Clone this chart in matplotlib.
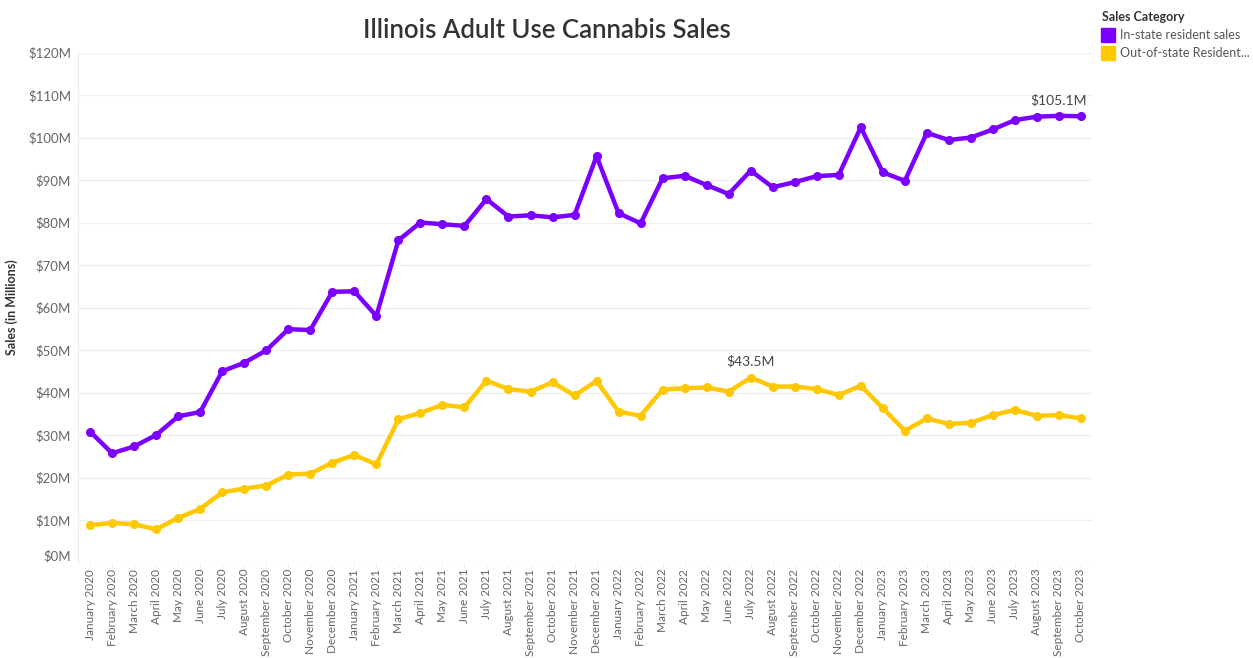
import matplotlib.pyplot as plt
from matplotlib.lines import Line2D

plt.rcParams['font.family'] = ['Lato', 'DejaVu Sans']

months = ["January", "February", "March", "April", "May", "June", "July",
          "August", "September", "October", "November", "December"]
month_labels = [f"{m} {y}" for y in range(2020, 2024) for m in months][:46]

# monthly sales, $M
in_state = [30.8, 25.7, 27.3, 30.0, 34.4, 35.4, 45.0, 47.0, 49.9, 54.9, 54.7, 63.7,
            63.8, 58.0, 75.8, 80.0, 79.6, 79.2, 85.5, 81.4, 81.7, 81.2, 81.8, 95.6,
            82.2, 79.8, 90.4, 91.0, 88.8, 86.7, 92.2, 88.3, 89.5, 90.9, 91.2, 102.4,
            91.8, 89.8, 101.1, 99.4, 100.0, 101.9, 104.1, 104.9, 105.1, 105.0]
out_of_state = [8.8, 9.3, 9.0, 7.8, 10.5, 12.6, 16.5, 17.4, 18.1, 20.7, 20.9, 23.5,
                25.3, 23.1, 33.7, 35.2, 37.1, 36.5, 42.8, 40.8, 40.2, 42.4, 39.3, 42.7,
                35.5, 34.5, 40.7, 41.0, 41.2, 40.2, 43.5, 41.4, 41.4, 40.8, 39.4, 41.6,
                36.3, 31.0, 33.9, 32.6, 32.9, 34.7, 35.9, 34.5, 34.7, 33.9]
series_names = ["In-state resident sales", "Out-of-state Resident..."]
series_colors = ["#7b00ff", "#ffc800"]
y_ticks = list(range(0, 130, 10))

fig = plt.figure(figsize=(12.53, 6.58), dpi=100)
ax = fig.add_axes([78 / 1253, 1 - 562.5 / 658, (1092 - 78) / 1253, 510 / 658])

x = list(range(len(month_labels)))
for vals, col in zip([in_state, out_of_state], series_colors):
    ax.plot(x, vals, color=col, lw=3.2, marker="o", ms=5.5, zorder=3,
            solid_joinstyle="round", solid_capstyle="round")

# callouts on the peak values
i_max = in_state.index(max(in_state))
ax.annotate(f"${in_state[i_max]:.1f}M", (i_max, in_state[i_max]),
            xytext=(0, 7), textcoords="offset points", ha="center", va="bottom",
            fontsize=10, color="#444444")
o_max = out_of_state.index(max(out_of_state))
ax.annotate(f"${out_of_state[o_max]:.1f}M", (o_max, out_of_state[o_max]),
            xytext=(0, 7), textcoords="offset points", ha="center", va="bottom",
            fontsize=10, color="#444444")

ax.set_xlim(-0.55, len(x) - 0.5)
ax.set_ylim(0, 120)
ax.set_xticks(x)
ax.set_xticklabels(month_labels, rotation=90, fontsize=8.5, color="#666666")
ax.set_yticks(y_ticks)
ylabels = ax.set_yticklabels([f"${v}M" for v in y_ticks], fontsize=9.5, color="#666666")
ylabels[0].set_va("bottom")
ax.tick_params(axis="y", length=0, pad=5)
ax.tick_params(axis="x", length=3, color="#eeeeee", pad=1.5)
ax.grid(axis="y", color="#f0f0f0", lw=1)
ax.set_axisbelow(True)
for side in ["top", "right", "bottom"]:
    ax.spines[side].set_visible(False)
ax.spines["left"].set_color("#eeeeee")

ax.set_ylabel("Sales (in Millions)", fontsize=9, color="#333333", fontweight="bold")
ax.yaxis.set_label_coords((18 - 78) / 1014, 0.5)
fig.text(547 / 1253, 1 - 30 / 658, "Illinois Adult Use Cannabis Sales",
         ha="center", va="center", fontsize=18.5, color="#333333", fontweight="semibold")

handles = [Line2D([], [], ls="none", marker="s", ms=10, color=c) for c in series_colors]
leg = fig.legend(handles, series_names, title="Sales Category", loc="upper left",
                 bbox_to_anchor=(1093 / 1253, 1 - 2 / 658), frameon=False,
                 fontsize=9, title_fontsize=9, alignment="left",
                 handlelength=1.0, handletextpad=0.5, labelspacing=0.5,
                 borderpad=0.2)
leg.get_title().set_fontweight("bold")
leg.get_title().set_color("#333333")
for t in leg.get_texts():
    t.set_color("#555555")

fig.savefig("out.png", dpi=100)
